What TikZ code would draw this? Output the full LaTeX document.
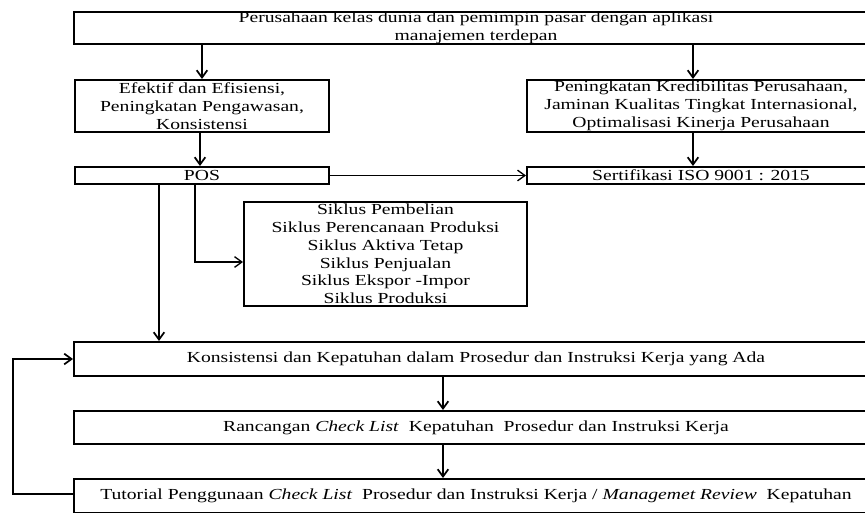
\documentclass[tikz,border=0pt]{standalone}
\usepackage{fontspec}
\setmainfont[FakeStretch=1.28]{Liberation Serif}
\usetikzlibrary{arrows.meta,calc}
\begin{document}
\begin{tikzpicture}[x=0.75pt,y=-0.75pt,
  box/.style={draw=black,line width=1.5pt,rectangle,inner sep=0pt,align=center,
    font=\fontsize{11.5}{13.3}\selectfont},
  arr/.style={line width=1.5pt,-{Straight Barb[length=5.5pt,width=8pt,line width=1.3pt]}},
  thinarr/.style={line width=0.9pt,-{Straight Barb[length=5.5pt,width=8pt,line width=1pt]}}]
\useasboundingbox (0,0) rectangle (865,512);
\clip (0,0) rectangle (865,512);
\fill[white] (0,0) rectangle (865,512);

\node[box,minimum width=603pt,minimum height=24pt] (top) at (476,28)
  {Perusahaan kelas dunia dan pemimpin pasar dengan aplikasi\\manajemen terdepan};
\node[box,minimum width=190.5pt,minimum height=39pt] (eff) at (202,106)
  {Efektif dan Efisiensi,\\Peningkatan Pengawasan,\\Konsistensi};
\node[box,minimum width=261pt,minimum height=39pt] (kred) at (701,106)
  {Peningkatan Kredibilitas Perusahaan,\\Jaminan Kualitas Tingkat Internasional,\\Optimalisasi Kinerja Perusahaan};
\node[box,minimum width=190.5pt,minimum height=12.75pt] (pos) at (202,175.5) {POS};
\node[box,minimum width=261pt,minimum height=12.75pt] (sert) at (701,175.5) {Sertifikasi ISO 9001 : 2015};
\node[box,minimum width=212.25pt,minimum height=78pt] (sik) at (385.5,254)
  {Siklus Pembelian\\Siklus Perencanaan Produksi\\Siklus Aktiva Tetap\\Siklus Penjualan\\Siklus Ekspor -Impor\\Siklus Produksi};
\node[box,minimum width=603pt,minimum height=25.5pt] (kon) at (476,359)
  {Konsistensi dan Kepatuhan dalam Prosedur dan Instruksi Kerja yang Ada};
\node[box,minimum width=603pt,minimum height=24.75pt] (ran) at (476,427.5)
  {Rancangan \textit{Check List} \ Kepatuhan \ Prosedur dan Instruksi Kerja};
\node[box,minimum width=603pt,minimum height=25.5pt] (tut) at (476,496)
  {Tutorial Penggunaan \textit{Check List} \ Prosedur dan Instruksi Kerja / \textit{Managemet Review} \ Kepatuhan};

\coordinate (fb) at (13,0);

\draw[arr] (eff.north |- top.south) -- (eff.north);
\draw[arr] ([xshift=-6pt]kred.north |- top.south) -- ([xshift=-6pt]kred.north);
\draw[arr] ([xshift=-1.5pt]eff.south) -- ([xshift=-1.5pt]pos.north);
\draw[arr] ([xshift=-6pt]kred.south) -- ([xshift=-6pt]sert.north);
\draw[thinarr] (pos.east) -- (sert.west);
\draw[arr] ([xshift=-32.25pt]pos.south) -- ([xshift=-32.25pt]pos.south |- kon.north);
\draw[thinarr] ([xshift=-5.25pt]pos.south) |- ([yshift=-6pt]sik.west);
\draw[arr] ([xshift=-24.75pt]kon.south) -- ([xshift=-24.75pt]ran.north);
\draw[arr] ([xshift=-24.75pt]ran.south) -- ([xshift=-24.75pt]tut.north);
\draw[arr] ([yshift=1.5pt]tut.west) -- ([yshift=1.5pt]tut.west -| fb) |- (kon.west);
\end{tikzpicture}
\end{document}
